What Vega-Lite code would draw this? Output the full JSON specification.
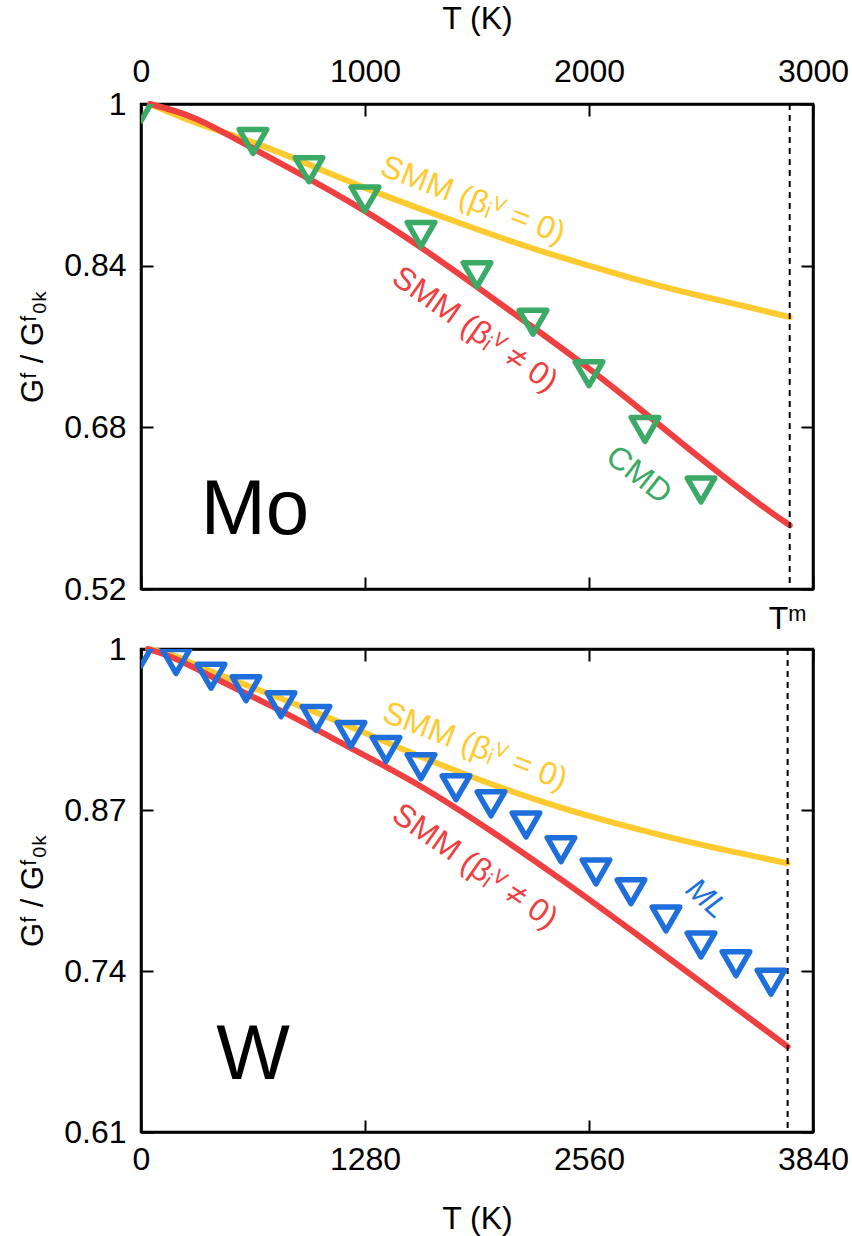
{
  "$schema": "https://vega.github.io/schema/vega-lite/v6.json",
  "background": "white",
  "padding": {"left": 16, "top": 0, "right": 0, "bottom": 0},
  "bounds": "flush",
  "spacing": 60,
  "config": {
    "font": "Liberation Sans",
    "view": {"stroke": "black", "strokeWidth": 2.5},
    "axis": {
      "grid": false,
      "domainColor": "black",
      "domainWidth": 2.5,
      "tickColor": "black",
      "tickWidth": 2,
      "tickSize": -12,
      "labelFont": "Liberation Sans",
      "labelFontSize": 32,
      "labelColor": "black",
      "labelPadding": 27,
      "labelFlush": false,
      "labelOverlap": false,
      "titleFont": "Liberation Sans",
      "titleFontSize": 32,
      "titleFontWeight": "normal",
      "titleColor": "black"
    }
  },
  "vconcat": [
    {
      "width": 672,
      "height": 485,
      "layer": [
        {
          "data": {"values": [
            {"T": 40, "G": 1.0}, {"T": 250, "G": 0.981}, {"T": 500, "G": 0.962}, {"T": 750, "G": 0.94},
            {"T": 1000, "G": 0.917}, {"T": 1250, "G": 0.896}, {"T": 1500, "G": 0.876}, {"T": 1750, "G": 0.857},
            {"T": 2000, "G": 0.84}, {"T": 2250, "G": 0.824}, {"T": 2500, "G": 0.81}, {"T": 2750, "G": 0.797},
            {"T": 2896, "G": 0.789}
          ]},
          "mark": {"type": "line", "color": "#FFCA30", "strokeWidth": 6, "strokeCap": "round", "interpolate": "natural"},
          "encoding": {
            "x": {"field": "T", "type": "quantitative", "scale": {"domain": [0, 3000], "nice": false},
                  "axis": {"orient": "top", "values": [0, 1000, 2000, 3000], "format": "d", "title": "T (K)", "titlePadding": 20, "labelPadding": 28}},
            "y": {"field": "G", "type": "quantitative", "scale": {"domain": [0.52, 1], "nice": false, "zero": false},
                  "axis": {"orient": "left", "values": [0.52, 0.68, 0.84, 1], "title": "Gᶠ / Gᶠ₀ₖ", "titleFontSize": 31, "titlePadding": 14,
                           "labelExpr": "datum.value == 1 ? '1' : format(datum.value, '.2f')"}}
          }
        },
        {
          "data": {"values": [
            {"T": 40, "G": 1.0}, {"T": 250, "G": 0.985}, {"T": 500, "G": 0.956}, {"T": 750, "G": 0.926},
            {"T": 1000, "G": 0.894}, {"T": 1250, "G": 0.858}, {"T": 1500, "G": 0.819}, {"T": 1750, "G": 0.779},
            {"T": 2000, "G": 0.738}, {"T": 2250, "G": 0.694}, {"T": 2500, "G": 0.649}, {"T": 2750, "G": 0.606},
            {"T": 2896, "G": 0.583}
          ]},
          "mark": {"type": "line", "color": "#EE4040", "strokeWidth": 6, "strokeCap": "round", "interpolate": "natural"},
          "encoding": {
            "x": {"field": "T", "type": "quantitative", "axis": {"orient": "bottom", "values": [0, 1000, 2000, 3000], "labels": false, "title": null}},
            "y": {"field": "G", "type": "quantitative", "axis": {"orient": "right", "values": [0.52, 0.68, 0.84, 1], "labels": false, "title": null}}
          }
        },
        {
          "data": {"values": [{"T": 2896}]},
          "mark": {"type": "rule", "color": "black", "strokeWidth": 2, "strokeDash": [6, 5]},
          "encoding": {"x": {"field": "T", "type": "quantitative", "axis": null}}
        },
        {
          "data": {"values": [
            {"T": 0, "G": 0.995}, {"T": 500, "G": 0.963}, {"T": 750, "G": 0.935}, {"T": 1000, "G": 0.906},
            {"T": 1250, "G": 0.871}, {"T": 1500, "G": 0.831}, {"T": 1750, "G": 0.784}, {"T": 2000, "G": 0.733},
            {"T": 2250, "G": 0.678}, {"T": 2500, "G": 0.618}
          ]},
          "mark": {"type": "point", "shape": "triangle-down", "filled": false, "color": "#3AAA66", "strokeWidth": 5.5, "strokeJoin": "round", "size": 760, "opacity": 1, "clip": true},
          "encoding": {
            "x": {"field": "T", "type": "quantitative", "axis": null},
            "y": {"field": "G", "type": "quantitative", "axis": null}
          }
        },
        {
          "data": {"values": [{"T": 1482, "G": 0.905, "label": "SMM (βᵢⱽ = 0)"}]},
          "mark": {"type": "text", "color": "#FFCA30", "fontSize": 32, "angle": 21, "align": "center", "baseline": "middle"},
          "encoding": {"x": {"field": "T", "type": "quantitative", "axis": null}, "y": {"field": "G", "type": "quantitative", "axis": null}, "text": {"field": "label"}}
        },
        {
          "data": {"values": [{"T": 1491, "G": 0.777, "label": "SMM (βᵢⱽ ≠ 0)"}]},
          "mark": {"type": "text", "color": "#EE4040", "fontSize": 32, "angle": 35, "align": "center", "baseline": "middle"},
          "encoding": {"x": {"field": "T", "type": "quantitative", "axis": null}, "y": {"field": "G", "type": "quantitative", "axis": null}, "text": {"field": "label"}}
        },
        {
          "data": {"values": [{"T": 2223, "G": 0.633, "label": "CMD"}]},
          "mark": {"type": "text", "color": "#3AAA66", "fontSize": 32, "angle": 38, "align": "center", "baseline": "middle"},
          "encoding": {"x": {"field": "T", "type": "quantitative", "axis": null}, "y": {"field": "G", "type": "quantitative", "axis": null}, "text": {"field": "label"}}
        },
        {
          "data": {"values": [{"T": 509, "G": 0.574, "label": "Mo"}]},
          "mark": {"type": "text", "color": "black", "fontSize": 78, "align": "center", "baseline": "alphabetic"},
          "encoding": {"x": {"field": "T", "type": "quantitative", "axis": null}, "y": {"field": "G", "type": "quantitative", "axis": null}, "text": {"field": "label"}}
        }
      ],
      "resolve": {"axis": {"x": "independent", "y": "independent"}}
    },
    {
      "width": 672,
      "height": 483,
      "layer": [
        {
          "data": {"values": [
            {"T": 40, "G": 1.0}, {"T": 200, "G": 0.994}, {"T": 400, "G": 0.982}, {"T": 800, "G": 0.96},
            {"T": 1200, "G": 0.937}, {"T": 1600, "G": 0.913}, {"T": 2000, "G": 0.891}, {"T": 2400, "G": 0.872},
            {"T": 2800, "G": 0.856}, {"T": 3200, "G": 0.842}, {"T": 3695, "G": 0.827}
          ]},
          "mark": {"type": "line", "color": "#FFCA30", "strokeWidth": 6, "strokeCap": "round", "interpolate": "natural"},
          "encoding": {
            "x": {"field": "T", "type": "quantitative", "scale": {"domain": [0, 3840], "nice": false},
                  "axis": {"orient": "bottom", "values": [0, 1280, 2560, 3840], "format": "d", "title": "T (K)", "titlePadding": 28, "labelPadding": 24}},
            "y": {"field": "G", "type": "quantitative", "scale": {"domain": [0.61, 1], "nice": false, "zero": false},
                  "axis": {"orient": "left", "values": [0.61, 0.74, 0.87, 1], "title": "Gᶠ / Gᶠ₀ₖ", "titleFontSize": 31, "titlePadding": 14,
                           "labelExpr": "datum.value == 1 ? '1' : format(datum.value, '.2f')"}}
          }
        },
        {
          "data": {"values": [
            {"T": 40, "G": 1.0}, {"T": 200, "G": 0.992}, {"T": 400, "G": 0.978}, {"T": 800, "G": 0.95},
            {"T": 1200, "G": 0.92}, {"T": 1600, "G": 0.889}, {"T": 2000, "G": 0.853}, {"T": 2400, "G": 0.814},
            {"T": 2800, "G": 0.773}, {"T": 3200, "G": 0.731}, {"T": 3695, "G": 0.679}
          ]},
          "mark": {"type": "line", "color": "#EE4040", "strokeWidth": 6, "strokeCap": "round", "interpolate": "natural"},
          "encoding": {
            "x": {"field": "T", "type": "quantitative", "axis": {"orient": "top", "values": [0, 1280, 2560, 3840], "labels": false, "title": null}},
            "y": {"field": "G", "type": "quantitative", "axis": {"orient": "right", "values": [0.61, 0.74, 0.87, 1], "labels": false, "title": null}}
          }
        },
        {
          "data": {"values": [{"T": 3695}]},
          "mark": {"type": "rule", "color": "black", "strokeWidth": 2, "strokeDash": [6, 5]},
          "encoding": {"x": {"field": "T", "type": "quantitative", "axis": null}}
        },
        {
          "data": {"values": [
            {"T": 0, "G": 0.996}, {"T": 200, "G": 0.99}, {"T": 400, "G": 0.978}, {"T": 600, "G": 0.968},
            {"T": 800, "G": 0.955}, {"T": 1000, "G": 0.944}, {"T": 1200, "G": 0.931}, {"T": 1400, "G": 0.919},
            {"T": 1600, "G": 0.905}, {"T": 1800, "G": 0.888}, {"T": 2000, "G": 0.875}, {"T": 2200, "G": 0.858},
            {"T": 2400, "G": 0.838}, {"T": 2600, "G": 0.82}, {"T": 2800, "G": 0.804}, {"T": 3000, "G": 0.782},
            {"T": 3200, "G": 0.761}, {"T": 3400, "G": 0.746}, {"T": 3600, "G": 0.731}
          ]},
          "mark": {"type": "point", "shape": "triangle-down", "filled": false, "color": "#1E6FDC", "strokeWidth": 5.5, "strokeJoin": "round", "size": 760, "opacity": 1, "clip": true},
          "encoding": {
            "x": {"field": "T", "type": "quantitative", "axis": null},
            "y": {"field": "G", "type": "quantitative", "axis": null}
          }
        },
        {
          "data": {"values": [{"T": 1909, "G": 0.9215, "label": "SMM (βᵢⱽ = 0)"}]},
          "mark": {"type": "text", "color": "#FFCA30", "fontSize": 32, "angle": 21, "align": "center", "baseline": "middle"},
          "encoding": {"x": {"field": "T", "type": "quantitative", "axis": null}, "y": {"field": "G", "type": "quantitative", "axis": null}, "text": {"field": "label"}}
        },
        {
          "data": {"values": [{"T": 1909, "G": 0.8245, "label": "SMM (βᵢⱽ ≠ 0)"}]},
          "mark": {"type": "text", "color": "#EE4040", "fontSize": 32, "angle": 35, "align": "center", "baseline": "middle"},
          "encoding": {"x": {"field": "T", "type": "quantitative", "axis": null}, "y": {"field": "G", "type": "quantitative", "axis": null}, "text": {"field": "label"}}
        },
        {
          "data": {"values": [{"T": 3229, "G": 0.798, "label": "ML"}]},
          "mark": {"type": "text", "color": "#1E6FDC", "fontSize": 31, "fontStyle": "italic", "angle": 42, "align": "center", "baseline": "middle"},
          "encoding": {"x": {"field": "T", "type": "quantitative", "axis": null}, "y": {"field": "G", "type": "quantitative", "axis": null}, "text": {"field": "label"}}
        },
        {
          "data": {"values": [{"T": 640, "G": 0.653, "label": "W"}]},
          "mark": {"type": "text", "color": "black", "fontSize": 78, "align": "center", "baseline": "alphabetic"},
          "encoding": {"x": {"field": "T", "type": "quantitative", "axis": null}, "y": {"field": "G", "type": "quantitative", "axis": null}, "text": {"field": "label"}}
        },
        {
          "data": {"values": [{"T": 3695, "G": 1, "label": "Tᵐ"}]},
          "mark": {"type": "text", "color": "black", "fontSize": 32, "align": "center", "baseline": "alphabetic", "dy": -20},
          "encoding": {"x": {"field": "T", "type": "quantitative", "axis": null}, "y": {"field": "G", "type": "quantitative", "axis": null}, "text": {"field": "label"}}
        }
      ],
      "resolve": {"axis": {"x": "independent", "y": "independent"}}
    }
  ]
}
